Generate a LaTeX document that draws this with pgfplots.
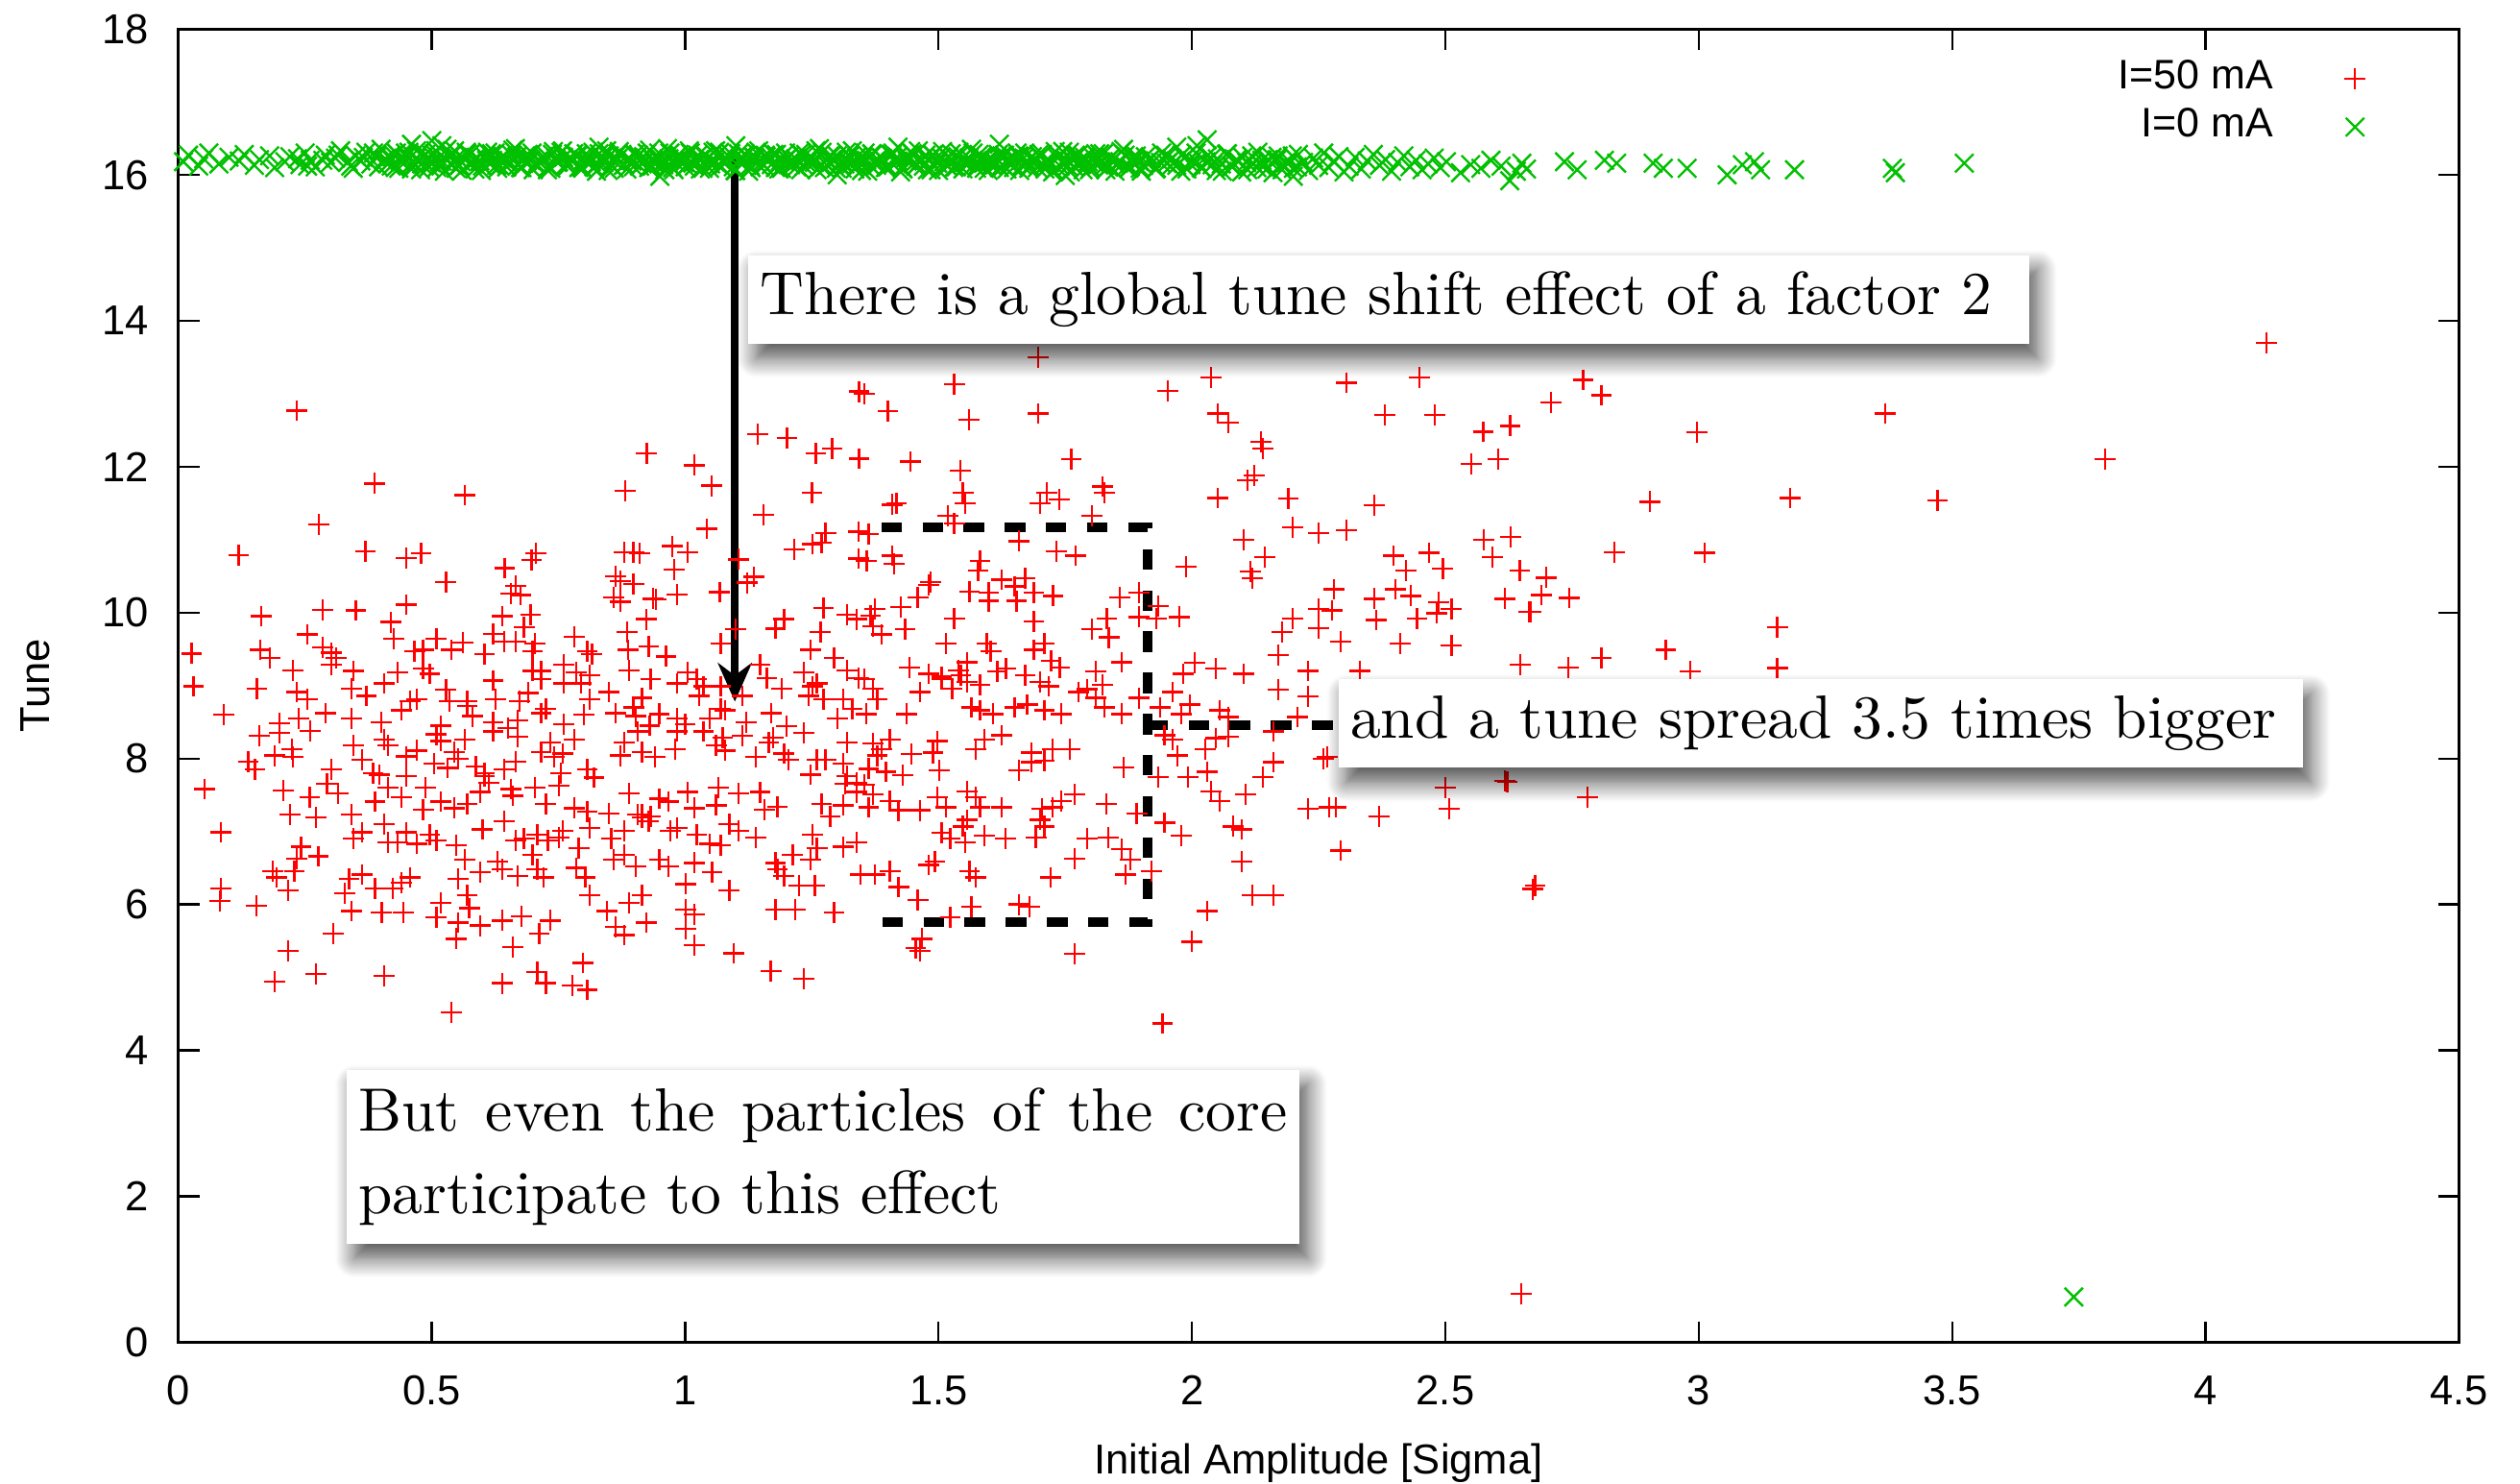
\documentclass[border=0pt]{standalone}
\usepackage{pgfplots}
\pgfplotsset{compat=1.18}
\usepackage{fontspec}
\newfontfamily\sansf{Liberation Sans}
\usetikzlibrary{arrows.meta,shadows.blur}
\definecolor{gpred}{RGB}{255,0,0}
\definecolor{gpgreen}{RGB}{0,192,0}
\begin{document}
\begin{tikzpicture}
\begin{axis}[
  at={(0,0)}, anchor=south west,
  scale only axis, width=141.9mm, height=81.7mm,
  xmin=0, xmax=4.5, ymin=0, ymax=18,
  xtick={0,0.5,1,1.5,2,2.5,3,3.5,4,4.5},
  ytick={0,2,4,6,8,10,12,14,16,18},
  xtick pos=both, ytick pos=both,
  xticklabel pos=lower, yticklabel pos=left,
  tick align=inside, major tick length=1.3mm,
  minor tick num=0,
  axis line style={line width=0.5pt},
  tick style={line width=0.4pt, black},
  /pgf/number format/assume math mode=true,
  ticklabel style={font=\sansf\fontsize{7.4}{8}\selectfont},
  xticklabel style={yshift=-0.85mm},
  yticklabel style={xshift=-0.6mm},
  xlabel={Initial Amplitude [Sigma]},
  ylabel={Tune},
  label style={font=\sansf\fontsize{7.4}{8}\selectfont},
  xlabel style={at={(axis description cs:0.5,0)}, anchor=center, yshift=-7.5mm},
  ylabel style={at={(axis description cs:0,0.5)}, anchor=center, yshift=8.9mm},
  legend plot pos=right,
  legend cell align=right,
  legend style={at={(axis description cs:0.9595,0.9816)}, anchor=north east,
    draw=none, fill=none, inner sep=0pt, row sep=0pt,
    font=\sansf\fontsize{7.3}{8.5}\selectfont,
    nodes={inner xsep=0.85mm, inner ysep=0.35mm},
    /tikz/every odd column/.append style={column sep=3.6mm}},
]
\addplot[only marks, mark=+, mark size=1.85pt, color=gpred, line width=0.4pt] coordinates {
(0.233,12.77)(0.387,11.77)(0.565,11.61)(0.277,11.21)(0.119,10.79)(0.369,10.84)(0.45,10.75)(0.479,10.81)(0.528,10.42)(0.644,10.61)(0.706,10.81)(0.697,10.72)(0.665,10.37)(0.656,10.26)(0.675,10.24)(0.924,12.18)(1.018,12.02)(1.052,11.74)(0.882,11.67)(1.043,11.15)(1.143,12.45)(1.201,12.39)(1.258,12.18)(1.29,12.25)(1.343,12.11)(1.343,13.03)(1.25,11.64)(1.155,11.34)(0.898,10.83)(0.88,10.83)(0.91,10.81)(0.975,10.91)(1.005,10.83)(0.978,10.59)(0.863,10.5)(0.872,10.43)(0.898,10.39)(0.859,10.21)(0.872,10.15)(0.936,10.19)(0.942,10.18)(0.984,10.25)(1.068,10.28)(1.105,10.73)(1.135,10.49)(1.122,10.41)(1.215,10.87)(1.251,10.94)(1.269,10.96)(1.277,11.09)(1.342,11.11)(1.342,10.74)(1.273,10.06)(1.32,9.97)(1.338,9.91)(1.195,9.91)(1.178,9.78)(1.267,9.73)(1.07,9.58)(1.10,9.77)(0.923,9.91)(0.885,9.73)(0.887,9.49)(0.928,9.54)(0.962,9.40)(0.164,9.95)(0.285,10.04)(0.35,10.03)(0.449,10.11)(0.419,9.87)(0.425,9.64)(0.254,9.70)(0.026,9.44)(0.162,9.49)(0.181,9.38)(0.285,9.52)(0.302,9.45)(0.311,9.38)(0.302,9.29)(0.466,9.47)(0.483,9.49)(0.509,9.64)(0.539,9.49)(0.561,9.59)(0.604,9.43)(0.621,9.71)(0.643,9.6)(0.665,9.6)(0.639,9.95)(0.695,9.97)(0.682,9.80)(0.703,9.58)(0.699,9.47)(0.781,9.67)(0.807,9.47)(0.816,9.43)(0.03,8.99)(0.155,8.96)(0.226,9.21)(0.233,8.91)(0.255,8.81)(0.345,9.2)(0.341,8.96)(0.371,8.86)(0.406,9.03)(0.432,9.18)(0.457,8.79)(0.47,8.81)(0.483,9.23)(0.496,9.16)(0.528,8.94)(0.535,8.79)(0.57,8.79)(0.57,8.72)(0.621,9.07)(0.626,8.81)(0.673,8.79)(0.69,8.9)(0.699,9.2)(0.716,9.2)(0.716,9.09)(0.725,8.68)(0.76,9.29)(0.76,9.03)(0.785,9.18)(0.794,9.03)(0.811,9.14)(0.811,8.81)(0.85,8.91)(0.889,9.21)(0.898,8.7)(0.915,8.83)(0.932,9.09)(0.949,8.61)(0.984,9.03)(1.005,9.18)(1.023,9.09)(1.036,8.99)(1.027,8.86)(1.07,8.99)(1.07,8.68)(1.113,8.86)(1.148,9.29)(1.161,9.1)(1.191,8.96)(1.234,9.18)(1.251,8.99)(1.26,9.03)(1.243,8.86)(1.273,8.81)(1.294,9.38)(1.32,9.21)(1.342,9.1)(1.312,8.81)(1.247,9.49)
(0.237,8.55)(0.341,8.55)(0.518,8.45)(0.621,8.5)(0.669,8.52)(0.716,8.62)(0.863,8.62)(0.902,8.58)(0.984,8.55)(1.049,8.55)(1.079,8.66)(0.09,8.6)(0.2,8.48)(0.29,8.62)(0.4,8.5)(0.44,8.66)(0.58,8.58)(0.76,8.47)(0.8,8.6)(0.93,8.45)(1.12,8.5)(1.17,8.62)(1.2,8.44)(1.3,8.55)(1.33,8.68)(0.65,8.42)(1.0,8.47)
(0.16,8.31)(0.2,8.35)(0.26,8.38)(0.406,8.26)(0.414,8.18)(0.509,8.33)(0.518,8.24)(0.565,8.26)(0.621,8.37)(0.669,8.3)(0.734,8.22)(0.781,8.26)(0.88,8.22)(0.906,8.37)(0.984,8.37)(1.036,8.37)(1.074,8.29)(1.113,8.31)(1.174,8.29)(1.234,8.35)(1.32,8.22)
(0.138,7.96)(0.151,7.85)(0.19,8.04)(0.224,8.13)(0.226,8.02)(0.302,7.85)(0.345,8.18)(0.362,7.98)(0.384,7.8)(0.449,8.03)(0.47,8.11)(0.505,7.93)(0.544,8.09)(0.552,8.0)(0.531,7.87)(0.587,7.89)(0.604,7.8)(0.643,7.85)(0.665,7.96)(0.716,8.09)(0.742,8.02)(0.759,8.07)(0.755,7.8)(0.807,7.85)(0.82,7.74)(0.872,8.04)(0.915,8.09)(0.941,8.02)(0.98,8.13)(1.061,8.18)(1.079,8.11)(1.139,8.02)(1.165,8.22)(1.195,8.07)(1.204,7.98)(1.26,7.98)(1.277,7.98)(1.312,7.93)(1.247,7.78)(1.32,7.76)(1.338,7.67)
(0.052,7.58)(0.207,7.56)(0.259,7.47)(0.293,7.65)(0.315,7.52)(0.397,7.78)(0.388,7.41)(0.414,7.6)(0.44,7.47)(0.449,7.76)(0.488,7.6)(0.483,7.3)(0.518,7.41)(0.544,7.32)(0.57,7.38)(0.595,7.54)(0.604,7.76)(0.613,7.67)(0.656,7.58)(0.66,7.49)(0.703,7.6)(0.725,7.38)(0.751,7.63)(0.781,7.32)(0.807,7.27)(0.85,7.25)(0.889,7.52)(0.915,7.23)(0.932,7.21)(0.949,7.45)(0.967,7.41)(1.005,7.54)(1.018,7.32)(1.061,7.36)(1.066,7.6)(1.105,7.52)(1.148,7.54)(1.156,7.3)(1.182,7.34)(1.269,7.38)(1.286,7.21)(1.312,7.36)(1.316,7.65)(1.338,7.54)
(0.22,7.23)(0.272,7.19)(0.341,7.23)(0.084,6.99)(0.362,6.99)(0.345,6.9)(0.406,7.1)(0.414,6.85)(0.432,6.85)(0.449,6.99)(0.47,6.83)(0.496,6.96)(0.509,6.88)(0.548,6.81)(0.6,7.03)(0.643,7.14)(0.665,6.88)(0.682,6.9)(0.708,6.96)(0.729,6.88)(0.759,7.01)(0.751,6.92)(0.79,6.77)(0.811,7.05)(0.854,6.9)(0.88,7.01)(0.906,7.23)(0.915,7.19)(0.928,7.14)(0.971,7.01)(0.984,7.05)(1.023,6.96)(1.049,6.83)(1.07,6.81)(1.087,7.1)(1.105,7.01)(1.139,6.92)(1.251,6.96)(1.26,6.77)(1.312,6.79)(1.338,6.85)
(0.242,6.79)(0.233,6.63)(0.276,6.66)(0.186,6.46)(0.194,6.37)(0.229,6.46)(0.337,6.35)(0.362,6.41)(0.457,6.37)(0.44,6.3)(0.552,6.35)(0.565,6.61)(0.595,6.44)(0.63,6.59)(0.639,6.48)(0.669,6.39)(0.708,6.48)(0.721,6.37)(0.699,6.68)(0.785,6.5)(0.803,6.37)(0.859,6.61)(0.88,6.68)(0.902,6.52)(0.949,6.61)(0.967,6.52)(1.018,6.57)(1.053,6.44)(1.178,6.57)(1.182,6.48)(1.212,6.68)(1.195,6.39)(1.247,6.61)(1.346,6.41)
(0.084,6.22)(0.082,6.05)(0.154,5.98)(0.217,6.19)(0.328,6.15)(0.341,5.91)(0.388,6.22)(0.401,5.89)(0.423,6.22)(0.444,5.89)(0.518,6.02)(0.509,5.82)(0.57,6.13)(0.574,5.95)(0.552,5.75)(0.595,5.71)(0.639,5.78)(0.677,5.84)(0.734,5.78)(0.811,6.13)(0.846,5.91)(0.889,6.02)(0.915,6.13)(1.001,6.28)(1.001,5.93)(1.018,5.86)(1.087,6.19)(1.178,5.93)(1.217,5.93)(1.225,6.26)(1.256,6.26)(1.294,5.89)
(0.306,5.6)(0.863,5.69)(0.88,5.58)(0.923,5.75)(1.001,5.67)(0.712,5.6)(0.548,5.53)(0.66,5.42)(1.018,5.44)(1.096,5.33)(0.216,5.36)(0.19,4.94)(0.272,5.05)(0.406,5.02)(0.639,4.92)(0.708,5.07)(0.725,4.92)(0.777,4.89)(0.807,4.83)(0.798,5.2)(1.169,5.09)(1.234,4.98)(0.539,4.52)
(1.37,8.21)(1.387,8.13)(1.404,8.26)(1.379,8.04)(1.362,7.86)(1.396,7.82)(1.429,7.77)(1.353,7.64)(1.37,7.51)(1.404,7.42)(1.362,7.33)(1.421,7.29)(1.463,7.29)(1.497,7.47)(1.514,7.33)(1.556,7.55)(1.573,7.47)(1.582,7.33)(1.624,7.33)(1.556,7.16)(1.548,7.07)(1.506,6.98)(1.523,6.9)(1.552,6.85)(1.59,6.94)(1.632,6.9)(1.692,6.92)(1.709,7.07)(1.7,7.16)(1.725,7.33)(1.742,7.42)(1.768,7.51)(1.704,7.31)(1.831,7.38)(1.793,6.9)(1.835,6.92)(1.768,6.63)(1.861,6.76)(1.878,6.61)(1.869,6.41)(1.891,7.25)(1.92,6.46)(1.721,6.37)(1.768,5.32)(1.467,5.53)(1.455,5.4)(1.463,5.36)(1.404,6.46)(1.421,6.24)(1.459,6.06)(1.374,6.41)(1.48,6.54)(1.493,6.59)(1.561,6.46)(1.573,6.37)(1.565,5.97)(1.658,6.0)(1.679,5.97)(1.523,5.82)(1.446,8.06)(1.489,8.08)(1.497,8.24)(1.501,7.84)(1.573,8.13)(1.59,8.26)(1.624,8.32)(1.683,8.08)(1.709,7.97)(1.725,8.13)(1.759,8.13)(1.658,7.84)(1.683,7.95)(1.865,7.88)
(1.353,9.09)(1.37,8.96)(1.379,8.81)(1.357,8.61)(1.437,8.61)(1.463,8.91)(1.506,9.09)(1.527,8.96)(1.544,9.14)(1.556,9.05)(1.565,8.7)(1.582,8.66)(1.607,8.61)(1.65,8.7)(1.675,8.74)(1.709,8.66)(1.742,8.61)(1.776,8.91)(1.81,8.83)(1.827,8.7)(1.861,8.61)(1.895,8.83)(1.937,8.7)(1.962,8.91)(1.979,8.61)(1.996,8.74)(2.055,8.66)(2.072,8.57)
(1.946,8.32)(1.962,8.26)(1.971,8.04)(1.933,7.75)(1.992,7.75)(2.026,8.13)(2.03,7.82)(2.047,8.28)(2.072,8.3)(2.161,8.37)(2.161,7.95)(2.14,7.75)(2.106,7.51)(2.038,7.55)(2.055,7.42)(1.946,7.12)(1.979,6.94)(2.081,7.07)(2.098,7.03)(2.098,6.59)(2.119,6.13)(2.161,6.13)(2.03,5.91)(2.0,5.49)(1.942,4.37)
(2.5,7.6)(2.508,7.31)(2.622,7.68)(2.369,7.21)(2.293,6.74)(2.229,7.31)(2.271,7.33)(2.284,7.33)(2.259,8.0)(2.267,8.02)(2.673,6.21)(2.78,7.47)
(1.696,13.5)(1.531,13.13)(1.40,12.76)(1.56,12.64)(1.696,12.73)(1.353,13.0)(1.952,13.04)(2.037,13.22)(2.305,13.15)(2.449,13.22)(2.051,12.73)(2.072,12.6)(2.381,12.71)(2.479,12.71)(2.575,12.48)(2.628,12.56)(2.136,12.34)(2.14,12.25)(2.551,12.04)(2.604,12.1)(1.445,12.07)(1.543,11.95)(1.762,12.1)(2.123,11.88)(2.11,11.81)(1.417,11.5)(1.408,11.48)(1.548,11.64)(1.553,11.5)(1.518,11.33)(1.531,11.22)(1.713,11.64)(1.7,11.5)(1.738,11.55)(1.823,11.73)(1.827,11.64)(1.802,11.33)(2.051,11.57)(2.19,11.56)(2.36,11.47)(2.199,11.17)(2.25,11.09)(2.305,11.13)(2.102,11.0)(2.144,10.76)(2.576,11.0)(2.629,11.04)(2.593,10.76)(2.647,10.58)(2.668,10.01)(2.398,10.78)(2.468,10.82)(2.422,10.58)(2.495,10.6)(1.988,10.63)(2.115,10.56)(2.119,10.47)(1.658,10.98)(1.732,10.84)(1.771,10.78)(1.408,10.78)(1.412,10.67)(1.362,11.08)(1.358,10.71)(1.582,10.71)(1.578,10.58)(1.484,10.42)(1.48,10.38)(1.624,10.45)(1.671,10.47)(1.65,10.36)(1.561,10.29)(1.599,10.27)(1.599,10.16)(1.654,10.16)(1.688,10.27)(1.726,10.23)(1.688,9.88)(1.857,10.21)(1.895,10.27)(1.933,10.09)(1.929,9.92)(1.895,9.94)(1.975,9.94)(1.459,10.21)(1.425,10.08)(1.374,10.05)(1.366,9.96)(1.387,9.7)(1.434,9.77)(1.37,9.81)(1.531,9.92)(1.802,9.77)(1.836,9.66)(1.832,9.92)(1.514,9.58)(1.595,9.58)(1.603,9.47)(1.688,9.49)(1.709,9.58)(1.722,9.34)(1.739,9.25)(1.442,9.25)(1.48,9.16)(1.506,9.12)(1.539,9.21)(1.556,9.32)(1.582,9.01)(1.616,9.19)(1.633,9.23)(1.671,9.14)(1.7,9.05)(1.717,8.99)(1.81,9.19)(1.823,9.01)(1.793,8.95)(1.861,9.32)(2.005,9.31)(1.983,9.16)(2.047,9.23)(2.102,9.16)(2.17,9.42)(2.229,9.2)(2.28,10.32)(2.36,10.19)(2.364,9.9)(2.402,10.32)(2.432,10.23)(2.487,10.14)(2.512,10.05)(2.444,9.92)(2.483,9.99)(2.25,10.05)(2.276,10.03)(2.199,9.92)(2.25,9.79)(2.178,9.73)(2.293,9.6)(2.411,9.58)(2.512,9.55)(2.618,10.19)(2.665,10.01)(2.648,9.29)(2.331,9.2)(2.17,8.94)(2.229,8.85)(2.208,8.57)
(4.12,13.7)(2.772,13.19)(2.808,12.98)(2.709,12.88)(3.368,12.73)(2.996,12.47)(3.802,12.1)(2.904,11.52)(3.18,11.57)(3.471,11.54)(2.834,10.83)(3.012,10.82)(2.699,10.48)(2.745,10.2)(3.155,9.8)(2.742,9.25)(2.808,9.38)(2.935,9.49)(2.983,9.19)(3.155,9.24)(2.617,7.69)(2.677,6.26)(2.65,0.66)(2.69,10.24)
};
\addlegendentry{I=50 mA}
\addplot[only marks, mark=x, mark size=2.3pt, color=gpgreen, line width=0.4pt] coordinates {
(0.01,16.18)(0.02,16.27)(0.04,16.12)(0.05,16.22)(0.06,16.30)(0.08,16.15)(0.10,16.24)(0.12,16.19)(0.13,16.28)(0.15,16.13)(0.16,16.21)(0.18,16.26)(0.19,16.10)(0.21,16.18)(0.22,16.25)(0.24,16.14)(0.25,16.30)(0.26,16.20)(0.27,16.11)(0.29,16.27)(0.30,16.17)(0.31,16.23)(0.32,16.33)(0.34,16.12)(0.35,16.26)(0.36,16.19)(0.37,16.31)(0.38,16.15)(0.39,16.24)(0.40,16.35)
(0.235,16.22)(0.255,16.12)(0.285,16.20)(0.315,16.27)(0.335,16.18)(0.345,16.09)(0.365,16.24)(0.385,16.30)(0.395,16.11)(0.405,16.20)
(0.41,16.21)(0.42,16.12)(0.43,16.30)(0.44,16.18)(0.45,16.25)(0.46,16.08)(0.47,16.33)(0.48,16.15)(0.49,16.22)(0.50,16.27)(0.51,16.10)(0.52,16.19)(0.53,16.35)(0.54,16.14)(0.55,16.24)(0.56,16.06)(0.57,16.29)(0.58,16.17)(0.59,16.23)(0.60,16.12)(0.61,16.31)(0.62,16.20)(0.63,16.09)(0.64,16.26)(0.65,16.16)(0.66,16.34)(0.67,16.13)(0.68,16.22)(0.69,16.28)(0.70,16.07)(0.71,16.19)(0.72,16.25)(0.73,16.11)(0.74,16.32)(0.75,16.18)(0.76,16.24)(0.77,16.15)(0.78,16.29)(0.79,16.10)(0.80,16.21)
(0.81,16.23)(0.82,16.11)(0.83,16.29)(0.84,16.17)(0.85,16.26)(0.86,16.09)(0.87,16.32)(0.88,16.14)(0.89,16.21)(0.90,16.28)(0.91,16.12)(0.92,16.20)(0.93,16.34)(0.94,16.15)(0.95,16.23)(0.96,16.07)(0.97,16.30)(0.98,16.18)(0.99,16.24)(1.00,16.11)(1.01,16.30)(1.02,16.19)(1.03,16.08)(1.04,16.27)(1.05,16.15)(1.06,16.33)(1.07,16.12)(1.08,16.23)(1.09,16.29)(1.10,16.06)(1.11,16.20)(1.12,16.26)(1.13,16.10)(1.14,16.31)(1.15,16.17)(1.16,16.25)(1.17,16.14)(1.18,16.28)(1.19,16.09)(1.20,16.22)
(1.21,16.20)(1.22,16.11)(1.23,16.28)(1.24,16.16)(1.25,16.24)(1.26,16.07)(1.27,16.31)(1.28,16.13)(1.29,16.21)(1.30,16.26)(1.31,16.09)(1.32,16.18)(1.33,16.33)(1.34,16.13)(1.35,16.23)(1.36,16.05)(1.37,16.28)(1.38,16.16)(1.39,16.22)(1.40,16.11)(1.41,16.30)(1.42,16.19)(1.43,16.08)(1.44,16.25)(1.45,16.15)(1.46,16.33)(1.47,16.12)(1.48,16.21)(1.49,16.27)(1.50,16.06)(1.51,16.18)(1.52,16.24)(1.53,16.10)(1.54,16.31)(1.55,16.17)(1.56,16.23)(1.57,16.14)(1.58,16.28)(1.59,16.09)(1.60,16.20)
(1.61,16.19)(1.62,16.10)(1.63,16.27)(1.64,16.15)(1.65,16.23)(1.66,16.06)(1.67,16.30)(1.68,16.12)(1.69,16.20)(1.70,16.25)(1.71,16.08)(1.72,16.17)(1.73,16.32)(1.74,16.12)(1.75,16.22)(1.76,16.04)(1.77,16.27)(1.78,16.15)(1.79,16.21)(1.80,16.10)(1.81,16.29)(1.82,16.18)(1.83,16.07)(1.84,16.24)(1.85,16.14)(1.86,16.32)(1.87,16.11)(1.88,16.20)(1.89,16.26)(1.90,16.05)(1.91,16.17)(1.92,16.23)(1.93,16.09)(1.94,16.30)(1.95,16.16)(1.96,16.22)(1.97,16.13)(1.98,16.27)(1.99,16.08)(2.00,16.19)
(2.01,16.18)(2.02,16.09)(2.03,16.26)(2.04,16.14)(2.05,16.22)(2.06,16.05)(2.07,16.29)(2.08,16.11)(2.09,16.19)(2.10,16.24)(2.11,16.07)(2.12,16.16)(2.13,16.31)(2.14,16.11)(2.15,16.21)(2.16,16.03)(2.17,16.26)(2.18,16.14)(2.19,16.20)(2.20,16.09)(2.21,16.28)(2.22,16.17)(2.23,16.06)(2.24,16.23)(2.25,16.13)(2.26,16.30)(2.27,16.10)(2.28,16.19)(2.29,16.25)(2.30,16.04)
(0.415,16.16)(0.425,16.27)(0.435,16.09)(0.445,16.23)(0.455,16.31)(0.465,16.14)(0.475,16.20)(0.485,16.26)(0.495,16.11)(0.505,16.29)(0.515,16.18)(0.525,16.05)(0.535,16.24)(0.545,16.33)(0.555,16.13)(0.565,16.21)(0.575,16.28)(0.585,16.08)(0.595,16.19)(0.605,16.25)(0.615,16.15)(0.625,16.30)(0.635,16.12)(0.645,16.22)(0.655,16.17)(0.665,16.36)(0.675,16.10)(0.685,16.26)(0.695,16.20)(0.705,16.14)
(0.715,16.16)(0.725,16.27)(0.735,16.09)(0.745,16.23)(0.755,16.31)(0.765,16.14)(0.775,16.20)(0.785,16.26)(0.795,16.11)(0.805,16.29)(0.815,16.18)(0.825,16.05)(0.835,16.24)(0.845,16.33)(0.855,16.13)(0.865,16.21)(0.875,16.28)(0.885,16.08)(0.895,16.19)(0.905,16.25)(0.915,16.15)(0.925,16.30)(0.935,16.12)(0.945,16.22)(0.955,16.17)(0.965,16.36)(0.975,16.10)(0.985,16.26)(0.995,16.20)(1.005,16.14)
(1.015,16.16)(1.025,16.27)(1.035,16.09)(1.045,16.23)(1.055,16.31)(1.065,16.14)(1.075,16.20)(1.085,16.26)(1.095,16.11)(1.105,16.29)(1.115,16.18)(1.125,16.05)(1.135,16.24)(1.145,16.33)(1.155,16.13)(1.165,16.21)(1.175,16.28)(1.185,16.08)(1.195,16.19)(1.205,16.25)(1.215,16.15)(1.225,16.30)(1.235,16.12)(1.245,16.22)(1.255,16.17)(1.265,16.36)(1.275,16.10)(1.285,16.26)(1.295,16.20)(1.305,16.14)
(1.315,16.15)(1.325,16.26)(1.335,16.08)(1.345,16.22)(1.355,16.30)(1.365,16.13)(1.375,16.19)(1.385,16.25)(1.395,16.10)(1.405,16.28)(1.415,16.17)(1.425,16.04)(1.435,16.23)(1.445,16.32)(1.455,16.12)(1.465,16.20)(1.475,16.27)(1.485,16.07)(1.495,16.18)(1.505,16.24)(1.515,16.14)(1.525,16.29)(1.535,16.11)(1.545,16.21)(1.555,16.16)(1.565,16.35)(1.575,16.09)(1.585,16.25)(1.595,16.19)(1.605,16.13)
(1.615,16.15)(1.625,16.26)(1.635,16.08)(1.645,16.22)(1.655,16.30)(1.665,16.13)(1.675,16.19)(1.685,16.25)(1.695,16.10)(1.705,16.28)(1.715,16.17)(1.725,16.04)(1.735,16.23)(1.745,16.32)(1.755,16.12)(1.765,16.20)(1.775,16.27)(1.785,16.07)(1.795,16.18)(1.805,16.24)(1.815,16.14)(1.825,16.29)(1.835,16.11)(1.845,16.21)(1.855,16.16)(1.865,16.35)(1.875,16.09)(1.885,16.25)(1.895,16.19)(1.905,16.13)
(0.418,16.25)(0.428,16.10)(0.438,16.19)(0.448,16.30)(0.458,16.14)(0.468,16.22)(0.478,16.07)(0.488,16.28)(0.498,16.17)(0.508,16.33)(0.518,16.12)(0.528,16.21)(0.538,16.26)(0.548,16.09)(0.558,16.18)(0.568,16.31)(0.578,16.15)(0.588,16.24)(0.598,16.06)(0.608,16.20)(0.618,16.29)(0.628,16.13)(0.638,16.23)(0.648,16.11)(0.658,16.27)
(0.668,16.25)(0.678,16.10)(0.688,16.19)(0.698,16.30)(0.708,16.14)(0.718,16.22)(0.728,16.07)(0.738,16.28)(0.748,16.17)(0.758,16.33)(0.768,16.12)(0.778,16.21)(0.788,16.26)(0.798,16.09)(0.808,16.18)(0.818,16.31)(0.828,16.15)(0.838,16.24)(0.848,16.06)(0.858,16.20)(0.868,16.29)(0.878,16.13)(0.888,16.23)(0.898,16.11)(0.908,16.27)
(0.918,16.25)(0.928,16.10)(0.938,16.19)(0.948,16.30)(0.958,16.14)(0.968,16.22)(0.978,16.07)(0.988,16.28)(0.998,16.17)(1.008,16.33)(1.018,16.12)(1.028,16.21)(1.038,16.26)(1.048,16.09)(1.058,16.18)(1.068,16.31)(1.078,16.15)(1.088,16.24)(1.098,16.06)(1.108,16.20)(1.118,16.29)(1.128,16.13)(1.138,16.23)(1.148,16.11)(1.158,16.27)
(1.168,16.25)(1.178,16.10)(1.188,16.19)(1.198,16.30)(1.208,16.14)(1.218,16.22)(1.228,16.07)(1.238,16.28)(1.248,16.17)(1.258,16.33)(1.268,16.12)(1.278,16.21)(1.288,16.26)(1.298,16.09)(1.308,16.18)(1.318,16.31)(1.328,16.15)(1.338,16.24)(1.348,16.06)(1.358,16.20)(1.368,16.29)(1.378,16.13)(1.388,16.23)(1.398,16.11)(1.408,16.27)
(1.418,16.24)(1.428,16.10)(1.438,16.19)(1.448,16.29)(1.458,16.14)(1.468,16.21)(1.478,16.07)(1.488,16.27)(1.498,16.16)(1.508,16.32)(1.518,16.12)(1.528,16.20)(1.538,16.25)(1.548,16.08)(1.558,16.17)(1.568,16.30)(1.578,16.14)(1.588,16.23)(1.598,16.06)(1.608,16.19)(1.618,16.28)(1.628,16.12)(1.638,16.22)(1.648,16.10)(1.658,16.26)
(1.668,16.23)(1.678,16.09)(1.688,16.18)(1.698,16.28)(1.708,16.13)(1.718,16.20)(1.728,16.06)(1.738,16.26)(1.748,16.15)(1.758,16.31)(1.768,16.11)(1.778,16.19)(1.788,16.24)(1.798,16.07)(1.808,16.16)(1.818,16.29)(1.828,16.13)(1.838,16.22)(1.848,16.05)(1.858,16.18)(1.868,16.27)(1.878,16.11)(1.888,16.21)(1.898,16.09)(1.908,16.25)
(1.918,16.22)(1.928,16.08)(1.938,16.17)(1.948,16.27)(1.958,16.12)(1.968,16.19)(1.978,16.05)(1.988,16.25)(1.998,16.14)(2.008,16.30)(2.018,16.10)(2.028,16.18)(2.038,16.23)(2.048,16.06)(2.058,16.15)(2.068,16.28)(2.078,16.12)(2.088,16.21)(2.098,16.04)(2.108,16.17)(2.118,16.26)(2.128,16.10)(2.138,16.20)(2.148,16.08)(2.158,16.24)
(2.168,16.21)(2.178,16.07)(2.188,16.16)(2.198,16.26)(2.208,16.11)
(0.50,16.47)(0.46,16.42)(0.52,16.40)(0.83,16.38)(1.10,16.40)(1.42,16.38)(1.62,16.42)(2.03,16.48)(2.01,16.40)(1.97,16.38)(0.95,15.98)(1.30,16.00)(1.75,15.99)(2.20,15.98)
(2.31,16.12)(2.322,16.24)(2.334,16.08)(2.346,16.19)(2.358,16.28)(2.37,16.13)(2.382,16.21)(2.394,16.05)(2.406,16.17)(2.418,16.26)(2.43,16.11)(2.442,16.2)(2.454,16.07)(2.466,16.15)(2.478,16.23)(2.49,16.1)(2.502,16.18)
(2.53,16.03)(2.55,16.14)(2.57,16.09)(2.59,16.2)(2.61,16.12)(2.627,15.92)(2.64,16.05)(2.651,16.16)(2.66,16.08)(2.735,16.18)(2.76,16.07)(2.814,16.2)(2.838,16.16)(2.91,16.16)(2.93,16.09)(2.977,16.09)(3.056,16.0)(3.086,16.14)(3.11,16.18)(3.122,16.07)(3.189,16.07)(3.382,16.09)(3.388,16.03)(3.524,16.16)(3.74,0.62)
};
\addlegendentry{I=0 mA}
\draw[line width=1.3pt, -{Stealth[length=2.4mm,width=2.1mm]}] (axis cs:1.098,16.27) -- (axis cs:1.098,8.78);
\draw[line width=1.7pt, dash pattern=on 1.28mm off 1.28mm] (axis cs:1.387,11.17) -- (axis cs:1.912,11.17) -- (axis cs:1.912,5.76) -- (axis cs:1.387,5.76);
\draw[line width=1.7pt, dash pattern=on 1.28mm off 1.28mm] (axis cs:1.912,8.46) -- (axis cs:2.29,8.46);
\end{axis}
\tikzset{annot/.style={anchor=north west, fill=white, inner xsep=0.75mm, inner ysep=0pt, align=left,
  font=\fontsize{10.8}{14.7}\selectfont,
  blur shadow={shadow xshift=0.5mm, shadow yshift=-0.9mm, shadow blur radius=1.2mm, shadow blur steps=12, shadow opacity=70}}}
\node[annot, text width=78.2mm, minimum height=5.5mm] at (35.4mm,67.7mm) {There is a global tune shift effect of a factor 2};
\node[annot, text width=58.5mm, minimum height=5.5mm] at (72.1mm,41.3mm) {and a tune spread 3.5 times bigger};
\node[annot, text width=57.8mm, minimum height=10.8mm, align=justify] at (10.4mm,17.0mm) {But even the particles of the core participate to this effect};
\pgfresetboundingbox
\path[use as bounding box] (-11.1mm,-8.8mm) rectangle (145.7mm,83.5mm);
\end{tikzpicture}
\end{document}
